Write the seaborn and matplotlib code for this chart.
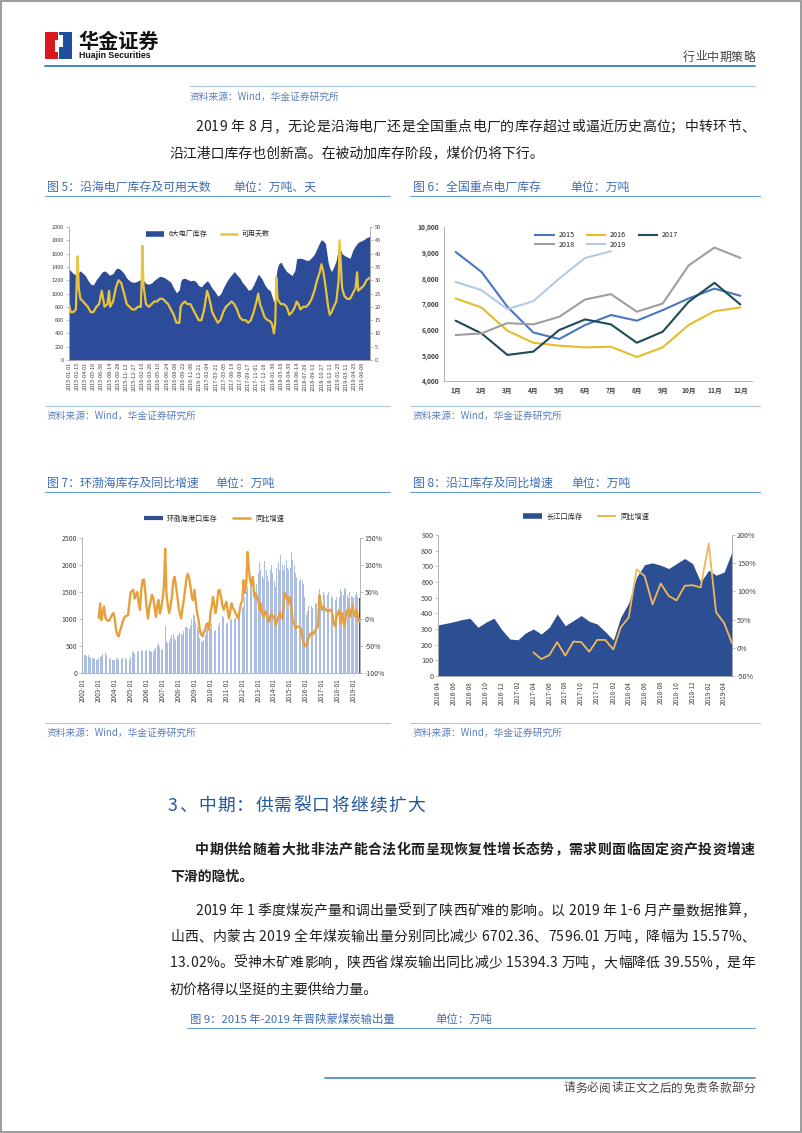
import numpy as np
import pandas as pd
import seaborn as sns
import matplotlib
matplotlib.use("Agg")
import matplotlib.pyplot as plt
from matplotlib import font_manager
from matplotlib.ft2font import FT2Font
from matplotlib.lines import Line2D
from matplotlib.patches import Rectangle

W, H = 802, 1133

# ---------------- 图5 沿海电厂库存及可用天数 ----------------
c5_dates = ["2015-01-01", "2015-01-10", "2015-01-25", "2015-02-08", "2015-02-14", "2015-02-18", "2015-02-24",
            "2015-03-05", "2015-03-20", "2015-04-01", "2015-04-15", "2015-05-01", "2015-05-16", "2015-06-01",
            "2015-06-16", "2015-07-01", "2015-07-16", "2015-08-01", "2015-08-10", "2015-08-16", "2015-09-01",
            "2015-09-16", "2015-10-01", "2015-10-16", "2015-11-01", "2015-11-16", "2015-12-01", "2015-12-16",
            "2016-01-01", "2016-01-16", "2016-02-01", "2016-02-06", "2016-02-10", "2016-02-16", "2016-03-01",
            "2016-03-16", "2016-04-01", "2016-04-16", "2016-05-01", "2016-05-16", "2016-06-01", "2016-06-16",
            "2016-07-01", "2016-07-16", "2016-08-01", "2016-08-16", "2016-09-01", "2016-09-08", "2016-09-16",
            "2016-10-01", "2016-10-16", "2016-11-01", "2016-11-16", "2016-12-01", "2016-12-16",
            "2017-01-01", "2017-01-16", "2017-02-01", "2017-02-10", "2017-02-20", "2017-03-01", "2017-03-16",
            "2017-04-01", "2017-04-16", "2017-05-01", "2017-05-16", "2017-06-01", "2017-06-16", "2017-07-01",
            "2017-07-16", "2017-08-01", "2017-08-16", "2017-09-01", "2017-09-16", "2017-10-01", "2017-10-16",
            "2017-11-01", "2017-11-10", "2017-11-20", "2017-12-01", "2017-12-16",
            "2018-01-01", "2018-01-16", "2018-01-25", "2018-02-05", "2018-02-12", "2018-02-18", "2018-02-25",
            "2018-03-05", "2018-03-16", "2018-04-01", "2018-04-16", "2018-05-01", "2018-05-16", "2018-06-01",
            "2018-06-10", "2018-06-20", "2018-07-01", "2018-07-16", "2018-08-01", "2018-08-16", "2018-09-01",
            "2018-09-16", "2018-10-01", "2018-10-16", "2018-10-25", "2018-11-05", "2018-11-16", "2018-12-01",
            "2018-12-10", "2018-12-20",
            "2019-01-01", "2019-01-15", "2019-01-28", "2019-02-02", "2019-02-08", "2019-02-16", "2019-03-01",
            "2019-03-16", "2019-04-01", "2019-04-16", "2019-05-01", "2019-05-10", "2019-05-16", "2019-06-01",
            "2019-06-16", "2019-07-01", "2019-07-20"]
c5_stock = [1370, 1340, 1300, 1280, 1290, 1300, 1320,
            1340, 1300, 1270, 1200, 1140, 1130, 1210,
            1260, 1320, 1340, 1310, 1280, 1280, 1300,
            1370, 1380, 1350, 1300, 1230, 1190, 1170,
            1170, 1190, 1210, 1240, 1250, 1200, 1150,
            1140, 1160, 1200, 1230, 1260, 1250, 1230,
            1200, 1170, 1080, 1010, 1060, 1180, 1220,
            1230, 1210, 1190, 1200, 1180, 1120,
            1100, 1150, 1190, 1170, 1120, 1080, 1030,
            960, 990, 1080, 1160, 1230, 1280, 1330,
            1280, 1230, 1160, 1110, 1050, 1060, 1130,
            1230, 1290, 1260, 1220, 1130,
            1070, 1040, 960, 860, 950, 1300, 1400,
            1450, 1470, 1390, 1330, 1300, 1270, 1350,
            1520, 1530, 1530, 1520, 1500, 1500, 1540,
            1590, 1680, 1770, 1810, 1790, 1750, 1470,
            1380, 1330,
            1400, 1500, 1700, 1720, 1650, 1600, 1570,
            1550, 1530, 1650, 1720, 1750, 1770, 1790,
            1810, 1840, 1860]
c5_days = [21, 18, 18, 19, 33, 39, 27,
           23, 22, 21, 20, 18, 18, 20,
           21, 26, 20, 21, 26, 20, 22,
           27, 30, 29, 25, 21, 20, 19,
           19, 20, 20, 30, 43, 28, 21,
           20, 21, 22, 22, 23, 23, 22,
           21, 19, 17, 14, 14, 20, 21,
           22, 21, 21, 19, 17, 15,
           15, 19, 26, 24, 21, 18, 16,
           14, 15, 18, 20, 21, 22, 21,
           19, 16, 15, 15, 14, 15, 18,
           22, 25, 21, 19, 16,
           15, 14.5, 13.5, 10, 14, 31, 23,
           22, 21, 21, 20, 17, 18, 20,
           22, 21, 19, 20, 20, 21, 23,
           26, 30, 33, 36, 33, 28, 20,
           17, 18,
           20, 22, 30, 45, 37, 27, 24,
           23, 23, 25, 27, 33, 26, 27,
           28, 30, 31]

# ---------------- 图6 全国重点电厂库存 ----------------
c6_months = ["1月", "2月", "3月", "4月", "5月", "6月", "7月", "8月", "9月", "10月", "11月", "12月"]
c6_2015 = [9030, 8250, 6890, 5890, 5635, 6180, 6570, 6350, 6760, 7215, 7600, 7320]
c6_2016 = [7215, 6865, 5960, 5490, 5375, 5310, 5335, 4935, 5310, 6180, 6720, 6865]
c6_2017 = [6350, 5855, 5015, 5145, 5985, 6400, 6205, 5490, 5920, 7085, 7825, 6980]
c6_2018 = [5790, 5855, 6255, 6205, 6500, 7175, 7385, 6700, 7020, 8500, 9200, 8795]
c6_2019 = [7860, 7540, 6800, 7110, 7990, 8795, 9055]

# ---------------- 图7 环渤海库存及同比增速 (monthly from 2002-01) ----------------
c7_stock = [220, 330, 330, 320, 330, 300, 280, 270, 260, 270, 250, 240,
            280, 300, 320, 350, 380, 390, 330, 300, 280, 260, 250, 240,
            240, 260, 280, 250, 270, 260, 280, 250, 270, 240, 230, 250,
            300, 380, 400, 350, 360, 380, 400, 390, 420, 410, 380, 400,
            430, 400, 420, 380, 400, 390, 420, 470, 520, 560, 480, 430,
            440, 460, 870, 600, 560, 600, 650, 700, 720, 650, 620, 680,
            700, 750, 720, 700, 780, 860, 850, 830, 820, 870, 1000, 1100,
            1050, 950, 850, 800, 650, 600, 580, 620, 700, 800, 900, 960,
            820, 900, 860, 780, 800, 850, 870, 920, 1000, 1050, 1040, 980,
            900, 950, 1000, 980, 1000, 1050, 1000, 1020, 1100, 1120, 1150, 1100,
            1200, 1250, 1400, 1500, 1600, 1700, 1720, 1650, 1600, 1550, 1500, 1650,
            1850, 2050, 1900, 1800, 1750, 2080, 1900, 1800, 1700, 1900, 2000, 1850,
            1700, 1600, 1950, 2050, 1900, 2180, 2000, 1900, 2000, 2100, 1950, 1900,
            1950, 2240, 2100, 2000, 1850, 1780, 1750, 1700, 1750, 1720, 1650, 1400,
            1075, 1150, 1250, 1320, 1250, 1200, 1250, 1270, 1300, 1400, 1560, 1350,
            1400, 1500, 1450, 1400, 1450, 1500, 1450, 1420, 1380, 1440, 1350, 1400,
            1450, 1400, 1560, 1500, 1450, 1580, 1560, 1450, 1380, 1500, 1420, 1400,
            1380, 1450, 1500, 1400, 1380]
# yoy growth (%) monthly from 2003-01
c7_yoy = [2, 29, -2, 12, 23, 3, -2, -3, -3, 3, 8, 11,
          0, -20, -30, -32, -22, -14, -5, 2, 5, 6, 7, 30,
          50, 52, 54, 38, 45, 50, 30, 17, 54, 72, 73, 50,
          20, 1, 20, 32, 45, 40, 23, 4, 25, 35, 10, 20,
          38, 60, 130, 45, 25, 11, 25, 40, 70, 78, 63, 45,
          23, 10, 1, 20, 35, 55, 75, 84, 75, 60, 40, 35,
          54, 30, 11, 0, -20, -28, -32, -25, -20, -10, -8, -20,
          10, 25, 41, 25, 11, 30, 52, 54, 41, 25, 17, 25,
          32, 15, 1, 15, 29, 20, 17, 11, 5, 1, 15, 29,
          32, 72, 48, 66, 124, 90, 70, 63, 78, 41, 48, 40,
          35, 17, 29, 10, 4, 14, 10, 0, -5, 5, 11, 4,
          4, -11, -5, 1, 11, 5, 1, 25, 48, 40, 38, 29,
          41, 17, -5, -8, -17, -15, -14, -15, -17, -30, -45, -51,
          -48, -40, -35, -28, -26, -29, -25, -20, -16, -14, 44, 29,
          17, 23, 20, 17, 15, 14, 17, 17, 5, -8, -14, 5,
          11, 17, -8, 11, -5, -14, 7, 15, 20, 4, 15, 26,
          10, 4, 17, 5, -5]

# ---------------- 图8 沿江库存及同比增速 (monthly from 2016-04) ----------------
c8_stock = [326, 336, 347, 360, 369, 311, 343, 369, 296,
            236, 231, 274, 300, 268, 311, 396, 321, 354, 386, 349, 332,
            283, 229, 375, 467, 632, 711, 722, 707, 686, 718, 750, 718,
            600, 675, 643, 664, 793]
# yoy growth (%) monthly from 2017-04
c8_yoy = [-8, -20, -13, 10, -14, 11, 10, -7, 14,
          14, -3, 36, 54, 139, 127, 77, 114, 92, 84, 110, 111,
          107, 185, 63, 44, 8]

# ---------------- page text ----------------
source_txt = "资料来源：Wind，华金证券研究所"
para1 = ["2019 年 8 月，无论是沿海电厂还是全国重点电厂的库存超过或逼近历史高位；中转环节、",
         "沿江港口库存也创新高。在被动加库存阶段，煤价仍将下行。"]
heading = "3、中期：供需裂口将继续扩大"
para2 = ["中期供给随着大批非法产能合法化而呈现恢复性增长态势，需求则面临固定资产投资增速",
         "下滑的隐忧。"]
para3 = ["2019 年 1 季度煤炭产量和调出量受到了陕西矿难的影响。以 2019 年 1-6 月产量数据推算，",
         "山西、内蒙古 2019 全年煤炭输出量分别同比减少 6702.36、7596.01 万吨，降幅为 15.57%、",
         "13.02%。受神木矿难影响，陕西省煤炭输出同比减少 15394.3 万吨，大幅降低 39.55%，是年",
         "初价格得以坚挺的主要供给力量。"]

BLUE_T = "#3f6db5"
SRC = "#5b7fbd"
RULE = "#6a9fd4"
TXT = "#1e1e1e"

sns.set_theme(style="white")
plt.rcParams["font.family"] = ["Noto Sans CJK SC", "DejaVu Sans"]
plt.rcParams["axes.unicode_minus"] = False

fig = plt.figure(figsize=(W / 100, H / 100), dpi=100)
fig.patch.set_facecolor("white")


def fx(x):
    return x / W


def fy(y):
    return 1 - y / H


def ax_at(l, t, r, b):
    return fig.add_axes([fx(l), fy(b), (r - l) / W, (b - t) / H])


def hline(x0, x1, y, color=RULE, lw=0.8):
    fig.add_artist(Line2D([fx(x0), fx(x1)], [fy(y), fy(y)], transform=fig.transFigure, color=color, lw=lw))


_fonts = {}


def advances(s, size, weight):
    if weight not in _fonts:
        path = font_manager.findfont(font_manager.FontProperties(family="Noto Sans CJK SC", weight=weight))
        _fonts[weight] = FT2Font(path)
    f = _fonts[weight]
    f.set_size(size, 100)
    return [f.load_char(ord(ch)).linearHoriAdvance / 65536 for ch in s]


def ptext(x, y, s, size, color=TXT, weight="normal", x_end=None, **kw):
    if x_end is None:
        fig.text(fx(x), fy(y), s, fontsize=size, color=color, fontweight=weight, va="center", **kw)
        return
    # justified line, drawn glyph by glyph
    try:
        adv = advances(s, size, weight)
    except Exception:
        adv = [size * 1.389 * (1.0 if ord(c) > 0x2E80 else 0.55) for c in s]
    extra = (x_end - x - sum(adv)) / max(len(s) - 1, 1)
    pos = x
    for ch, a in zip(s, adv):
        if ch != " ":
            fig.text(fx(pos), fy(y), ch, fontsize=size, color=color, fontweight=weight, va="center")
        pos += a + extra


def style(ax, spines=("left", "bottom"), lsize=5.0):
    for k, sp in ax.spines.items():
        sp.set_visible(k in spines)
        sp.set_color("#a6a6a6")
        sp.set_linewidth(0.6)
    ax.tick_params(length=2, width=0.5, color="#a6a6a6", labelcolor="#404040", pad=1.5, labelsize=lsize)
    ax.set_xlabel("")
    ax.set_ylabel("")
    ax.grid(False)


def patch_handle(color, lw):
    return Line2D([], [], color=color, lw=lw, solid_capstyle="butt")


# ---------------- page frame, header ----------------
fig.add_artist(Rectangle((0.001, 0.001), 0.998, 0.998, transform=fig.transFigure, fill=False,
                         edgecolor="#8c8c8c", lw=1.2))
fig.add_artist(Rectangle((fx(45), fy(59)), 13 / W, 27 / H, transform=fig.transFigure, color="#d7191f", lw=0))
fig.add_artist(Rectangle((fx(59), fy(59)), 13 / W, 27 / H, transform=fig.transFigure, color="#1f4e9c", lw=0))
fig.add_artist(Rectangle((fx(55), fy(52)), 4 / W, 12 / H, transform=fig.transFigure, color="white", lw=0))
fig.add_artist(Rectangle((fx(59), fy(47)), 4 / W, 12 / H, transform=fig.transFigure, color="white", lw=0))
ptext(78, 41, "华金证券", 14.5, color="#111111", weight="bold")
fig.text(fx(79), fy(56), "Huajin Securities", fontsize=6.3, color="#111111", fontweight="bold",
         family="Liberation Sans", va="center")
ptext(683, 57, "行业中期策略", 8.6, color="#444444", x_end=755)
hline(45, 755, 66, color="#3d88c4", lw=1.4)

hline(190, 755, 86, color="#a9c8e6", lw=0.8)
ptext(190, 97, source_txt, 7, color=SRC)
ptext(195, 127, para1[0], 10, x_end=755)
ptext(170, 153, para1[1], 10)

# ---------------- chart titles / captions ----------------
titles = [(47, 187, "图 5：沿海电厂库存及可用天数", 233, "单位：万吨、天", 45, 390),
          (413, 187, "图 6：全国重点电厂库存", 570, "单位：万吨", 410, 760),
          (47, 483, "图 7：环渤海库存及同比增速", 215, "单位：万吨", 45, 390),
          (413, 483, "图 8：沿江库存及同比增速", 571, "单位：万吨", 410, 760)]
for x, y, t, ux, u, l0, l1 in titles:
    ptext(x, y, t, 8.6, color=BLUE_T)
    ptext(ux, y, u, 8.6, color=BLUE_T)
    hline(l0, l1, y + 9)
for x, y, l0, l1 in [(47, 416, 45, 390), (413, 416, 410, 760), (47, 733, 45, 390), (413, 733, 410, 760)]:
    hline(l0, l1, y - 10, color="#a9c8e6")
    ptext(x, y, source_txt, 7, color=SRC)

# ---------------- chart 5 ----------------
C5_AREA, C5_LINE = "#2c4b98", "#e8c33c"
d5 = pd.DataFrame({"date": pd.to_datetime(c5_dates), "stock": c5_stock, "days": c5_days})
ax5 = ax_at(69, 227, 370, 360)
ax5.fill_between(d5["date"], d5["stock"], color=C5_AREA, lw=0)
ax5b = ax5.twinx()
sns.lineplot(data=d5, x="date", y="days", ax=ax5b, color=C5_LINE, lw=1.6)
ax5.set_ylim(0, 2000)
ax5.set_yticks(range(0, 2001, 200))
ax5b.set_ylim(0, 50)
ax5b.set_yticks(range(0, 51, 5))
t5 = pd.date_range("2015-01-01", periods=37, freq="45D")
ax5.set_xticks(t5)
ax5.set_xticklabels([t.strftime("%Y-%m-%d") for t in t5], rotation=90)
ax5.set_xlim(d5["date"].iloc[0], d5["date"].iloc[-1])
style(ax5, ("left", "bottom"), 4.0)
style(ax5b, ("right",), 4.0)
ax5.tick_params(axis="x", labelsize=4.0, length=0)
fig.legend(handles=[patch_handle(C5_AREA, 4), patch_handle(C5_LINE, 1.8)],
           labels=["6大电厂库存", "可用天数"], loc="center", bbox_to_anchor=(fx(208), fy(234)), ncol=2,
           frameon=False, fontsize=5, handlelength=2.6, handletextpad=0.6, columnspacing=1.8)

# ---------------- chart 6 ----------------
pal6 = {"2015": "#4a76c0", "2016": "#e5bd2a", "2017": "#1d4b57", "2018": "#9e9e9e", "2019": "#b4c9e8"}
series6 = {"2015": c6_2015, "2016": c6_2016, "2017": c6_2017, "2018": c6_2018, "2019": c6_2019}
d6 = pd.concat([pd.DataFrame({"m": range(len(v)), "v": v, "year": k}) for k, v in series6.items()])
ax6 = ax_at(444, 227, 752, 381)
sns.lineplot(data=d6, x="m", y="v", hue="year", palette=pal6, ax=ax6, lw=1.5, legend=False, sort=False)
ax6.set_xlim(-0.45, 11.45)
ax6.set_ylim(4000, 10000)
ax6.set_yticks(range(4000, 10001, 1000))
ax6.set_yticklabels([f"{v:,}" for v in range(4000, 10001, 1000)], fontweight="bold")
ax6.set_xticks(range(12))
ax6.set_xticklabels(c6_months, fontweight="bold")
style(ax6, ("left", "bottom"), 4.8)
ax6.tick_params(axis="x", length=0, pad=4)
order6 = ["2015", "2018", "2016", "2019", "2017"]
fig.legend(handles=[patch_handle(pal6[k], 1.5) for k in order6], labels=order6, loc="center",
           bbox_to_anchor=(fx(606), fy(240)), ncol=3, frameon=False, fontsize=5.2, handlelength=2.8,
           handletextpad=0.5, columnspacing=1.6, labelspacing=0.15)

# ---------------- chart 7 ----------------
C7_BAR, C7_DARK, C7_LINE = "#abbde0", "#2f4d8f", "#e6a13e"
d7 = pd.DataFrame({"date": pd.date_range("2002-01-01", periods=len(c7_stock), freq="MS"), "stock": c7_stock})
y7 = pd.DataFrame({"date": pd.date_range("2003-01-01", periods=len(c7_yoy), freq="MS"), "yoy": c7_yoy})
ax7 = ax_at(82, 538, 360, 673)
ax7.bar(d7["date"], d7["stock"], width=20, color=C7_BAR, lw=0)
ax7.bar(d7["date"].iloc[-1:], d7["stock"].iloc[-1:], width=20, color=C7_DARK, lw=0)
ax7b = ax7.twinx()
sns.lineplot(data=y7, x="date", y="yoy", ax=ax7b, color=C7_LINE, lw=1.7)
ax7.set_ylim(0, 2500)
ax7.set_yticks(range(0, 2501, 500))
ax7b.set_ylim(-100, 150)
ax7b.set_yticks(range(-100, 151, 50))
ax7b.set_yticklabels([f"{v}%" for v in range(-100, 151, 50)])
t7 = pd.date_range("2002-01-01", "2019-01-01", freq="YS")
ax7.set_xticks(t7)
ax7.set_xticklabels([t.strftime("%Y-%m") for t in t7], rotation=90)
ax7.set_xlim(pd.Timestamp("2001-12-12"), pd.Timestamp("2019-05-20"))
style(ax7, ("left", "bottom"), 5.0)
style(ax7b, ("right",), 5.0)
ax7.tick_params(axis="x", labelsize=4.6)
fig.legend(handles=[patch_handle(C7_DARK, 3), patch_handle(C7_LINE, 1.8)],
           labels=["环渤海港口库存", "同比增速"], loc="center", bbox_to_anchor=(fx(214), fy(519)), ncol=2,
           frameon=False, fontsize=5.2, handlelength=2.6, handletextpad=0.6, columnspacing=2.0)

# ---------------- chart 8 ----------------
C8_AREA, C8_LINE = "#2c4f93", "#f0b65c"
dates8 = pd.date_range("2016-04-01", periods=len(c8_stock), freq="MS")
y8 = pd.DataFrame({"date": dates8[len(c8_stock) - len(c8_yoy):], "yoy": c8_yoy})
ax8 = ax_at(438, 535, 732, 676)
ax8.fill_between(dates8, c8_stock, color=C8_AREA, lw=0)
ax8b = ax8.twinx()
sns.lineplot(data=y8, x="date", y="yoy", ax=ax8b, color=C8_LINE, lw=1.3)
ax8.set_ylim(0, 900)
ax8.set_yticks(range(0, 901, 100))
ax8b.set_ylim(-50, 200)
ax8b.set_yticks(range(-50, 201, 50))
ax8b.set_yticklabels([f"{v}%" for v in range(-50, 201, 50)])
ax8.set_xticks(dates8[::2])
ax8.set_xticklabels([t.strftime("%Y-%m") for t in dates8[::2]], rotation=90)
ax8.set_xlim(dates8[0], dates8[-1])
style(ax8, ("left", "bottom"), 5.2)
style(ax8b, ("right",), 5.2)
ax8.tick_params(axis="x", labelsize=4.6)
fig.legend(handles=[patch_handle(C8_AREA, 4), patch_handle(C8_LINE, 1.5)],
           labels=["长江口库存", "同比增速"], loc="center", bbox_to_anchor=(fx(586), fy(517)), ncol=2,
           frameon=False, fontsize=5.2, handlelength=2.6, handletextpad=0.6, columnspacing=2.0)

# ---------------- section 3 text ----------------
ptext(168, 806, heading, 12.8, color="#23579b", x_end=425)
ptext(195, 850, para2[0], 10, weight="bold", x_end=755)
ptext(170, 877, para2[1], 10, weight="bold")
ptext(195, 911, para3[0], 10, x_end=755)
ptext(170, 937, para3[1], 10, x_end=755)
ptext(170, 963, para3[2], 10, x_end=755)
ptext(170, 990, para3[3], 10)

ptext(190, 1019, "图 9：2015 年-2019 年晋陕蒙煤炭输出量", 8.2, color=BLUE_T)
ptext(435, 1019, "单位：万吨", 8.2, color=BLUE_T)
hline(187, 755, 1028)

hline(325, 755, 1078, color="#3d88c4", lw=1.2)
ptext(563, 1088, "请务必阅读正文之后的免责条款部分", 8.4, color="#444444", x_end=755)

fig.savefig("out.png", dpi=100, facecolor="white")
